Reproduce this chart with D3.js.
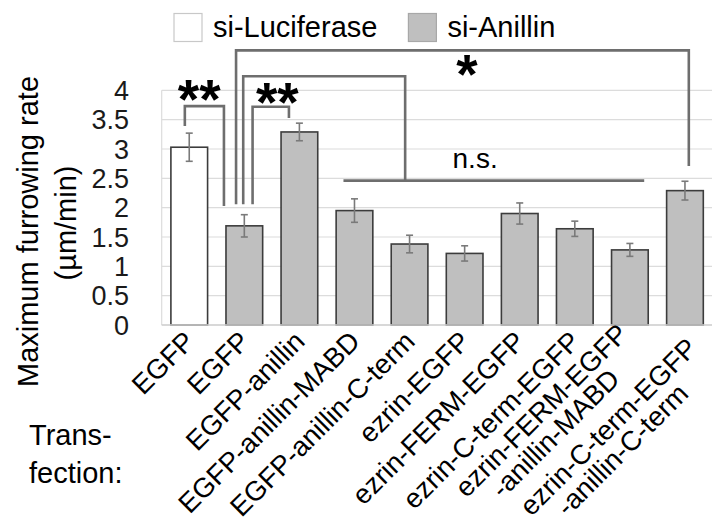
<!DOCTYPE html>
<html>
<head>
<meta charset="utf-8">
<script src="https://cdn.jsdelivr.net/npm/d3@7"></script>
<style>
  html, body { margin: 0; padding: 0; background: #fff; }
  svg text { font-family: "Liberation Sans", Arial, sans-serif; fill: #000; }
</style>
</head>
<body>
<svg id="chart" width="712" height="529"></svg>
<script>
'use strict';

// data
const categories = [
  ['EGFP'],
  ['EGFP'],
  ['EGFP-anillin'],
  ['EGFP-anillin-MABD'],
  ['EGFP-anillin-C-term'],
  ['ezrin-EGFP'],
  ['ezrin-FERM-EGFP'],
  ['ezrin-C-term-EGFP'],
  ['ezrin-FERM-EGFP', '-anillin-MABD'],
  ['ezrin-C-term-EGFP', '-anillin-C-term']
];
const groups = ['si-Luciferase', 'si-Anillin', 'si-Anillin', 'si-Anillin', 'si-Anillin',
                'si-Anillin', 'si-Anillin', 'si-Anillin', 'si-Anillin', 'si-Anillin'];
const means = [3.03, 1.69, 3.29, 1.95, 1.38, 1.22, 1.90, 1.64, 1.28, 2.29];
const errors = [0.24, 0.19, 0.15, 0.20, 0.15, 0.13, 0.18, 0.13, 0.11, 0.16];
const yTicks = [0, 0.5, 1, 1.5, 2, 2.5, 3, 3.5, 4];
const legendItems = ['si-Luciferase', 'si-Anillin'];

// significance brackets: x in (fractional) bar index, y in data units
const brackets = [
  { x1: -0.08, x2: 0.63, y1: 3.39, top: 3.73, y2: 2.03 },
  { x1: 0.85, x2: 9.07, y1: 2.06, top: 4.68, y2: 2.71 },
  { x1: 0.98, x2: 3.92, y1: 2.06, top: 4.24, y2: 2.46 },
  { x1: 1.15, x2: 1.81, y1: 2.06, top: 3.72, y2: 3.53 }
];
const nsLine = { x1: 2.80, x2: 8.26, y: 2.46 };
const marks = [
  { text: '**', x: 0.18, y: 3.99, star: true },
  { text: '**', x: 1.60, y: 3.95, star: true },
  { text: '*', x: 5.04, y: 4.43, star: true },
  { text: 'n.s.', x: 5.19, y: 2.67, star: false }
];

const fills = { 'si-Luciferase': '#ffffff', 'si-Anillin': '#bfbfbf' };

const svg = d3.select('#chart');

const plotLeft = 161.7, plotRight = 712.5, plotTop = 90.3, plotBottom = 325;

const x = d3.scaleBand()
    .domain(d3.range(categories.length))
    .range([plotLeft, plotRight])
    .paddingInner(0.334)
    .paddingOuter(0.167);

const y = d3.scaleLinear()
    .domain([0, 4])
    .range([plotBottom, plotTop]);

// fractional index -> pixel (bar centre at integer index)
const xAt = v => plotLeft + (v + 0.5) * x.step();

// gridlines
svg.append('g')
    .selectAll('line')
    .data(yTicks)
    .enter().append('line')
    .attr('x1', plotLeft).attr('x2', plotRight)
    .attr('y1', d => y(d)).attr('y2', d => y(d))
    .attr('stroke', '#dcdcdc')
    .attr('stroke-width', 1.2);

svg.append('line')
    .attr('x1', plotLeft).attr('x2', plotLeft)
    .attr('y1', y(4)).attr('y2', y(0))
    .attr('stroke', '#dcdcdc')
    .attr('stroke-width', 1.2);

// y tick labels
svg.append('g')
    .selectAll('text')
    .data(yTicks)
    .enter().append('text')
    .attr('x', 129)
    .attr('y', d => y(d))
    .attr('dy', '0.36em')
    .attr('text-anchor', 'end')
    .style('font-size', '27px')
    .style('fill', '#1a1a1a')
    .text(d => d);

// bars
svg.append('g')
    .selectAll('rect')
    .data(means)
    .enter().append('rect')
    .attr('x', (d, i) => x(i))
    .attr('y', d => y(d))
    .attr('width', x.bandwidth())
    .attr('height', d => y(0) - y(d))
    .attr('fill', (d, i) => fills[groups[i]])
    .attr('stroke', '#3c3c3c')
    .attr('stroke-width', 1.6);

// error bars
const eb = svg.append('g')
    .attr('stroke', '#7a7a7a')
    .attr('stroke-width', 1.6);

means.forEach((m, i) => {
  const cx = x(i) + x.bandwidth() / 2;
  const hi = y(m + errors[i]), lo = y(m - errors[i]);
  eb.append('line').attr('x1', cx).attr('x2', cx).attr('y1', hi).attr('y2', lo);
  eb.append('line').attr('x1', cx - 3.5).attr('x2', cx + 3.5).attr('y1', hi).attr('y2', hi);
  eb.append('line').attr('x1', cx - 3.5).attr('x2', cx + 3.5).attr('y1', lo).attr('y2', lo);
});

// x axis baseline
svg.append('line')
    .attr('x1', plotLeft).attr('x2', plotRight)
    .attr('y1', y(0)).attr('y2', y(0))
    .attr('stroke', '#d0d0d0')
    .attr('stroke-width', 1.5);

// brackets
const bracketLine = d3.line();
svg.append('g')
    .selectAll('path')
    .data(brackets)
    .enter().append('path')
    .attr('d', b => bracketLine([
      [xAt(b.x1), y(b.y1)], [xAt(b.x1), y(b.top)],
      [xAt(b.x2), y(b.top)], [xAt(b.x2), y(b.y2)]
    ]))
    .attr('fill', 'none')
    .attr('stroke', '#6e6e6e')
    .attr('stroke-width', 2.6);

svg.append('line')
    .attr('x1', xAt(nsLine.x1)).attr('x2', xAt(nsLine.x2))
    .attr('y1', y(nsLine.y)).attr('y2', y(nsLine.y))
    .attr('stroke', '#6e6e6e')
    .attr('stroke-width', 2.6);

// significance marks
svg.append('g')
    .selectAll('text')
    .data(marks)
    .enter().append('text')
    .attr('x', d => xAt(d.x))
    .attr('y', d => y(d.y))
    .attr('dy', d => d.star ? '0.5em' : 0)
    .attr('text-anchor', 'middle')
    .style('font-size', d => d.star ? '55px' : '28px')
    .style('font-weight', d => d.star ? 'bold' : 'normal')
    .text(d => d.text);

// x labels, rotated; lines of a two-line label centred on each other
const lineH = 26;
categories.forEach((lines, i) => {
  // last label sits a little lower in the original
  const shift = i === categories.length - 1 ? 20 : 0;
  const g = svg.append('g')
      .attr('transform', `translate(${x(i) + x.bandwidth() / 2},336) rotate(-45)`);
  const texts = lines.map((t, j) => g.append('text')
      .attr('text-anchor', 'end')
      .attr('y', (j - (lines.length - 1) * 0.4) * lineH + shift)
      .attr('dy', '0.36em')
      .style('font-size', '27.5px')
      .text(t));
  const widths = texts.map(t => t.node().getComputedTextLength());
  const maxW = d3.max(widths);
  texts.forEach((t, j) => t.attr('x', -(maxW - widths[j]) * 0.6));
});

// y axis title
const yTitle = [['Maximum furrowing rate', 38, 231.5], ['(\u00b5m/min)', 76, 223]];
yTitle.forEach(([t, bx, cy]) => {
  svg.append('text')
      .attr('transform', `translate(${bx},${cy}) rotate(-90)`)
      .attr('text-anchor', 'middle')
      .style('font-size', '29px')
      .text(t);
});

// "Trans- / fection:"
['Trans-', 'fection:'].forEach((t, j) => {
  svg.append('text')
      .attr('x', 29)
      .attr('y', 445 + j * 38)
      .style('font-size', '29px')
      .text(t);
});

// legend
let lx = 174;
legendItems.forEach(name => {
  svg.append('rect')
      .attr('x', lx).attr('y', 13.5)
      .attr('width', 28).attr('height', 28)
      .attr('fill', fills[name])
      .attr('stroke', name === 'si-Luciferase' ? '#c8c8c8' : '#a8a8a8')
      .attr('stroke-width', 1.2);
  const t = svg.append('text')
      .attr('x', lx + 39).attr('y', 36.5)
      .style('font-size', '29px')
      .text(name);
  lx += 39 + t.node().getComputedTextLength() + 31;
});
</script>
</body>
</html>
